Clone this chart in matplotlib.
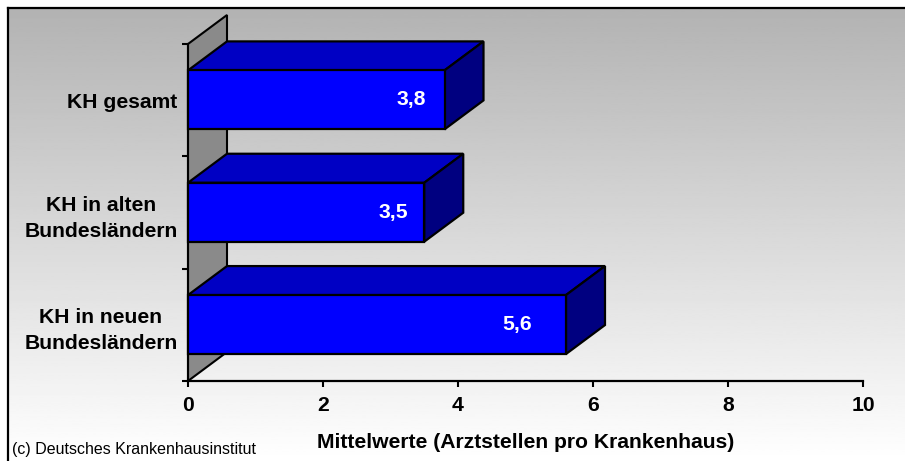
import numpy as np
import matplotlib
matplotlib.use("Agg")
import matplotlib.pyplot as plt
from matplotlib.patches import Polygon

plt.rcParams['font.family'] = ['Liberation Sans', 'DejaVu Sans']

# ---- data ----
categories = ["KH in neuen\nBundesländern", "KH in alten\nBundesländern", "KH gesamt"]
values = [5.6, 3.5, 3.8]
value_labels = ["5,6", "3,5", "3,8"]
xticks = [0, 2, 4, 6, 8, 10]
xlabel = "Mittelwerte (Arztstellen pro Krankenhaus)"
credit = "(c) Deutsches Krankenhausinstitut"

W, H = 905, 461
FS = 15.2
fig = plt.figure(figsize=(W / 100, H / 100), dpi=100)

# background with gradient and frame
bg = fig.add_axes([0, 0, 1, 1], zorder=-5)
bg.set_xlim(0, W)
bg.set_ylim(H, 0)
bg.axis("off")
grad = np.linspace(0.70, 1.0, 256).reshape(-1, 1)
bg.imshow(grad, cmap="gray", vmin=0, vmax=1, extent=[9, W, H, 9], aspect="auto")
bg.plot([8, 8], [H, 8], color="black", lw=1.6, solid_capstyle="projecting")
bg.plot([8, W], [8, 8], color="black", lw=1.6, solid_capstyle="projecting")

# main axes
x0, x1, yb, yt = 188, 863, 381, 44
ax = fig.add_axes([x0 / W, (H - yb) / H, (x1 - x0) / W, (yb - yt) / H])
ax.set_facecolor("none")
ax.set_xlim(0, 10)
ax.set_ylim(0, 3)

dx = 39 / ((x1 - x0) / 10)      # depth in data units (x)
dy = 29 / ((yb - yt) / 3)       # depth in data units (y)

# side wall
wall = Polygon([(0, 0), (dx, dy), (dx, 3 + dy), (0, 3)], closed=True,
               facecolor="#8a8a8a", edgecolor="black", lw=1.5, clip_on=False, zorder=1)
ax.add_patch(wall)

bar_lo, bar_h = 0.24, 0.525
for i, v in enumerate(values):
    y0 = i + bar_lo
    y1 = y0 + bar_h
    front = Polygon([(0, y0), (v, y0), (v, y1), (0, y1)], closed=True,
                    facecolor="#0000ff", edgecolor="black", lw=1.6, zorder=3, clip_on=False)
    top = Polygon([(0, y1), (v, y1), (v + dx, y1 + dy), (dx, y1 + dy)], closed=True,
                  facecolor="#0000c4", edgecolor="black", lw=1.6, zorder=3, clip_on=False)
    side = Polygon([(v, y0), (v + dx, y0 + dy), (v + dx, y1 + dy), (v, y1)], closed=True,
                   facecolor="#000080", edgecolor="black", lw=1.6, zorder=3, clip_on=False)
    for p in (top, side, front):
        ax.add_patch(p)
    ax.text(v * 0.87, (y0 + y1) / 2, value_labels[i], color="white", fontsize=FS,
            fontweight="bold", ha="center", va="center", zorder=5)

# spines/ticks
for s in ("top", "right"):
    ax.spines[s].set_visible(False)
ax.spines["bottom"].set_linewidth(1.6)
ax.spines["left"].set_linewidth(1.5)
ax.spines["bottom"].set_zorder(4)
ax.set_xticks(xticks)
ax.set_xticklabels([str(t) for t in xticks])
ax.tick_params(axis="x", length=4, width=1.5, pad=7, labelsize=FS)
ax.set_yticks([0, 1, 2, 3])
ax.set_yticklabels([])
ax.tick_params(axis="y", which="major", length=4, width=1.5)
ax.set_yticks([0.5, 1.5, 2.5], minor=True)
ax.set_yticklabels(categories, minor=True)
ax.tick_params(axis="y", which="minor", length=0, pad=7.5, labelsize=FS)
for lab in ax.get_xticklabels() + ax.get_yticklabels(minor=True):
    lab.set_fontweight("bold")
for lab in ax.get_yticklabels(minor=True):
    lab.set_multialignment("center")
    lab.set_linespacing(1.5)

ax.set_xlabel(xlabel, fontsize=FS, fontweight="bold", labelpad=13)

fig.text(12 / W, 1 - 449 / H, credit, fontsize=11.5, ha="left", va="center")

fig.savefig("out.png", dpi=100)
